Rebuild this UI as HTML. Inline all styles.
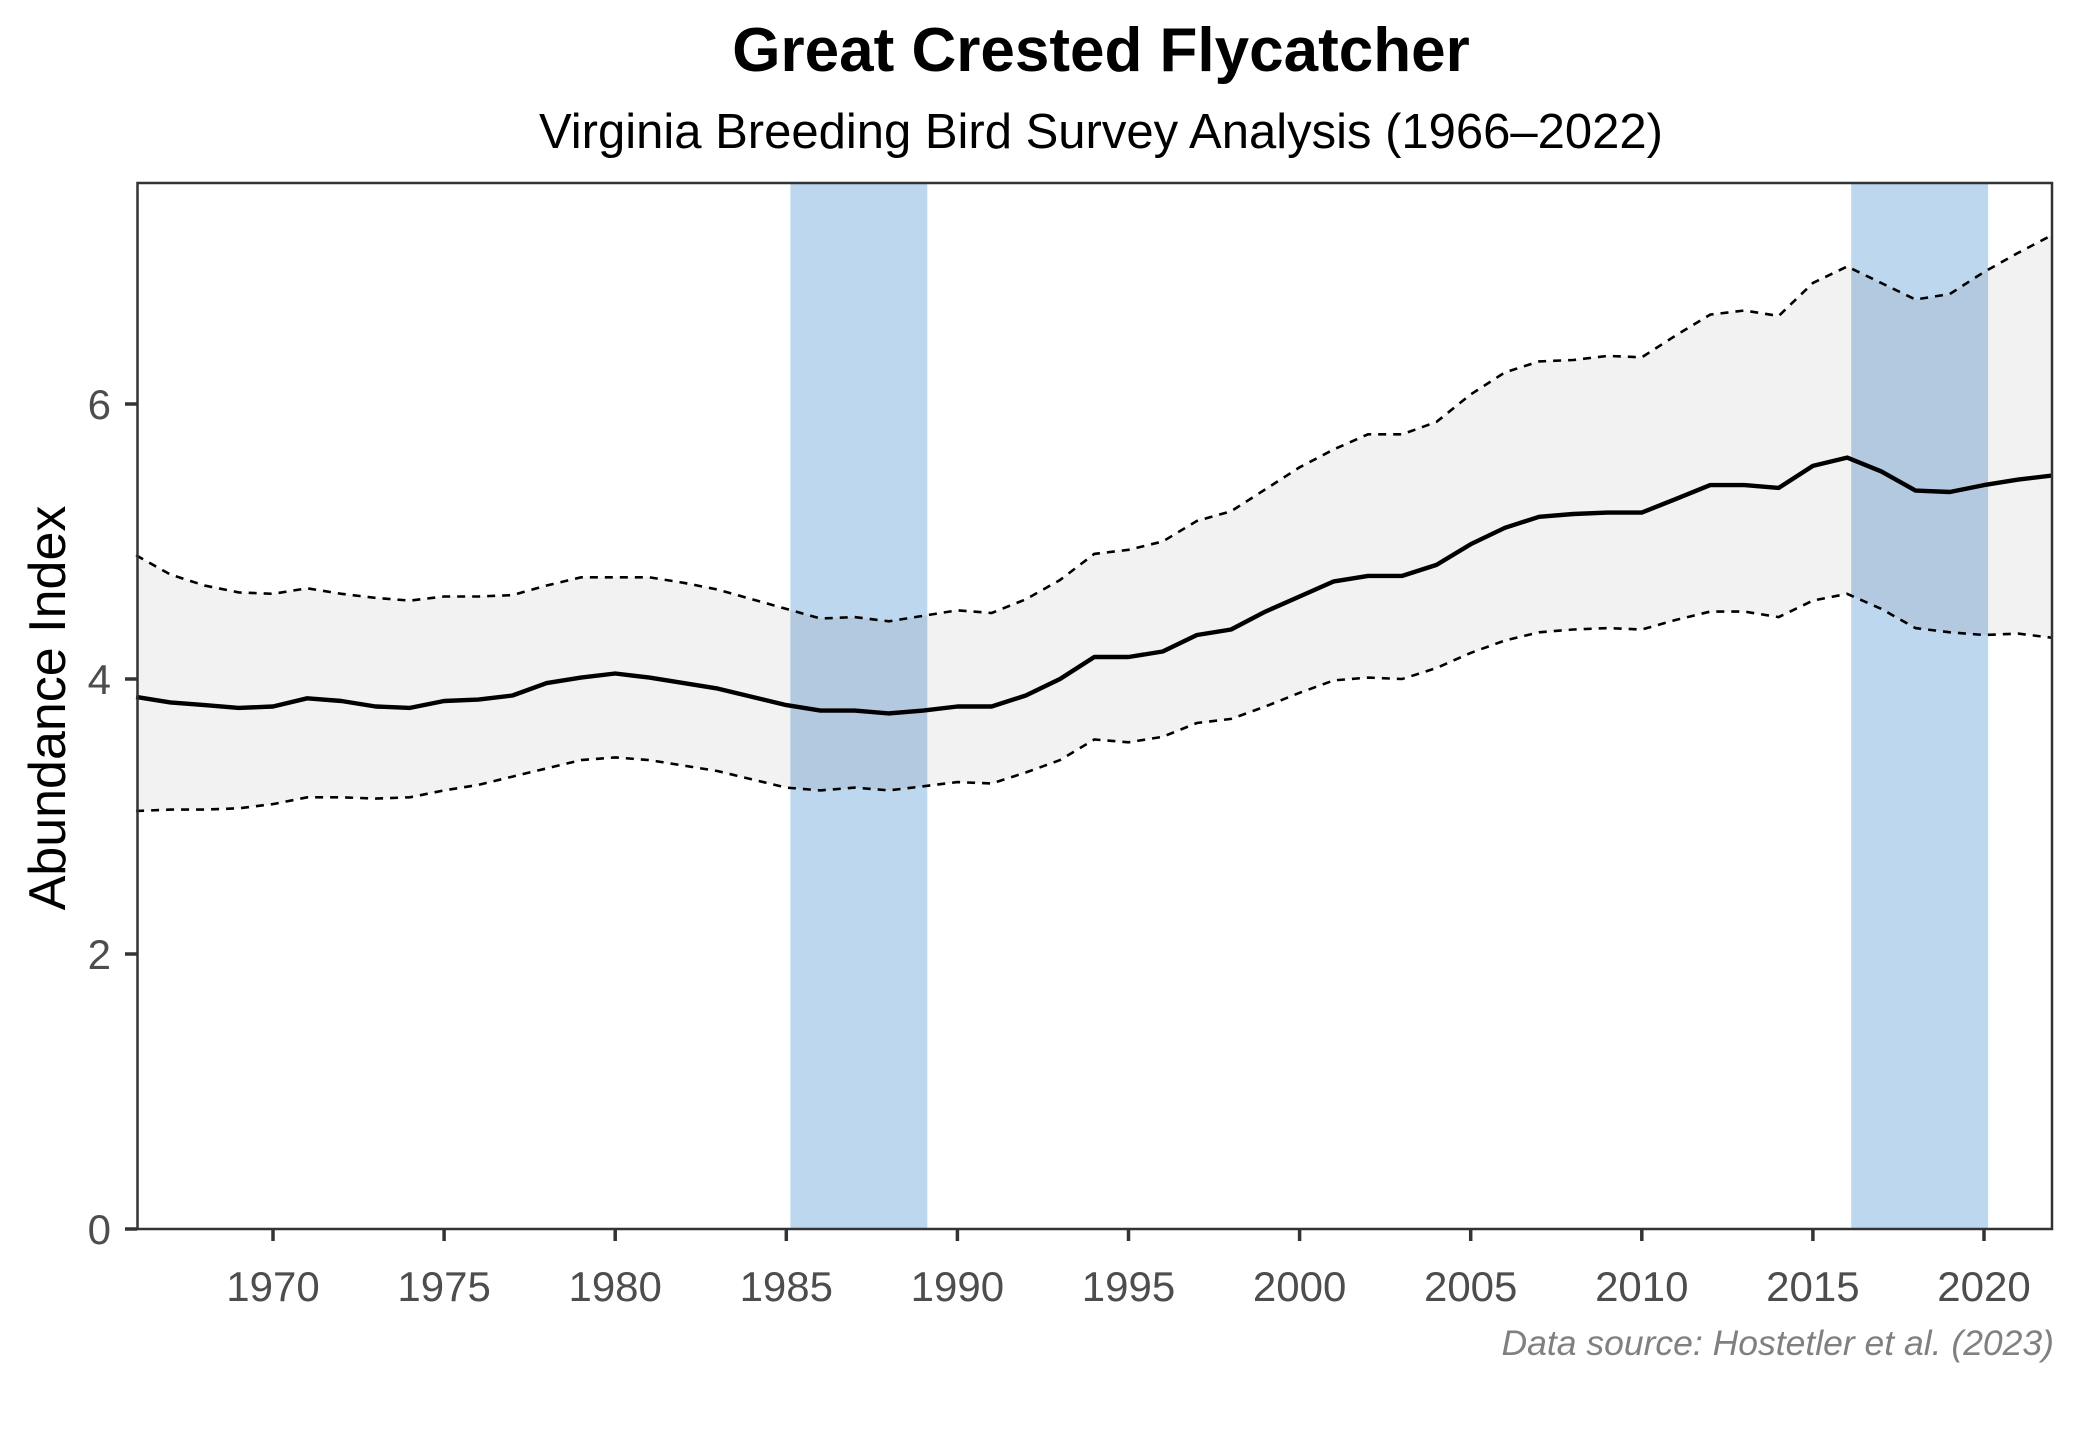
<!DOCTYPE html>
<html><head><meta charset="utf-8"><style>
html,body{margin:0;padding:0;background:#fff;}
svg{display:block;font-family:"Liberation Sans",Arial,sans-serif;}
</style></head><body>
<svg id="s" width="2080" height="1440" viewBox="0 0 2080 1440" xmlns="http://www.w3.org/2000/svg">
<rect width="2080" height="1440" fill="#fff"/>
<defs><clipPath id="bc"><rect x="790.4" y="183" width="136.9" height="1046"/><rect x="1851.2" y="183" width="136.9" height="1046"/></clipPath></defs>
<rect x="790.4" y="183" width="136.9" height="1046" fill="#bdd7ee"/>
<rect x="1851.2" y="183" width="136.9" height="1046" fill="#bdd7ee"/>
<path id="rib" fill="#f2f2f2"/>
<path id="rib2" fill="#b3c9df" clip-path="url(#bc)"/>
<path id="up" fill="none" stroke="#000" stroke-width="2.6" stroke-dasharray="8,7"/>
<path id="lo" fill="none" stroke="#000" stroke-width="2.6" stroke-dasharray="8,7"/>
<path id="mn" fill="none" stroke="#000" stroke-width="4.4" stroke-linejoin="round"/>
<rect x="137.5" y="183" width="1914.5" height="1046" fill="none" stroke="#333" stroke-width="2.5"/>
<g stroke="#333" stroke-width="3.5">
<line x1="125" y1="1229" x2="137" y2="1229"/><line x1="125" y1="954" x2="137" y2="954"/><line x1="125" y1="679" x2="137" y2="679"/><line x1="125" y1="404" x2="137" y2="404"/>
<line x1="273" y1="1229" x2="273" y2="1241"/><line x1="444.1" y1="1229" x2="444.1" y2="1241"/><line x1="615.2" y1="1229" x2="615.2" y2="1241"/><line x1="786.3" y1="1229" x2="786.3" y2="1241"/><line x1="957.4" y1="1229" x2="957.4" y2="1241"/><line x1="1128.5" y1="1229" x2="1128.5" y2="1241"/><line x1="1299.6" y1="1229" x2="1299.6" y2="1241"/><line x1="1470.7" y1="1229" x2="1470.7" y2="1241"/><line x1="1641.8" y1="1229" x2="1641.8" y2="1241"/><line x1="1812.9" y1="1229" x2="1812.9" y2="1241"/><line x1="1984" y1="1229" x2="1984" y2="1241"/>
</g>
<g fill="#4d4d4d" font-size="42" text-anchor="end">
<text x="111" y="1244">0</text><text x="111" y="969">2</text><text x="111" y="694">4</text><text x="111" y="419">6</text>
</g>
<g fill="#4d4d4d" font-size="42" text-anchor="middle">
<text x="273" y="1301">1970</text><text x="444.1" y="1301">1975</text><text x="615.2" y="1301">1980</text><text x="786.3" y="1301">1985</text><text x="957.4" y="1301">1990</text><text x="1128.5" y="1301">1995</text><text x="1299.6" y="1301">2000</text><text x="1470.7" y="1301">2005</text><text x="1641.8" y="1301">2010</text><text x="1812.9" y="1301">2015</text><text x="1984" y="1301">2020</text>
</g>
<text x="1101" y="71" font-size="62" font-weight="bold" text-anchor="middle">Great Crested Flycatcher</text>
<text x="1101" y="148" font-size="49" text-anchor="middle">Virginia Breeding Bird Survey Analysis (1966–2022)</text>
<text transform="translate(65,708) rotate(-90)" font-size="52" text-anchor="middle">Abundance Index</text>
<text x="2054" y="1355" font-size="35.5" font-style="italic" fill="#808080" text-anchor="end">Data source: Hostetler et al. (2023)</text>
</svg>
<script>
var m=[3.87,3.83,3.81,3.79,3.80,3.86,3.84,3.80,3.79,3.84,3.85,3.88,3.97,4.01,4.04,4.01,3.97,3.93,3.87,3.81,3.77,3.77,3.75,3.77,3.80,3.80,3.88,4.00,4.16,4.16,4.20,4.32,4.36,4.49,4.60,4.71,4.75,4.75,4.83,4.98,5.10,5.18,5.20,5.21,5.21,5.31,5.41,5.41,5.39,5.55,5.61,5.51,5.37,5.36,5.41,5.45,5.48];
var u=[4.90,4.76,4.68,4.63,4.62,4.66,4.62,4.59,4.57,4.60,4.60,4.61,4.68,4.74,4.74,4.74,4.70,4.65,4.58,4.51,4.44,4.45,4.42,4.46,4.50,4.48,4.58,4.72,4.91,4.94,5.00,5.15,5.22,5.38,5.54,5.67,5.78,5.78,5.87,6.07,6.23,6.31,6.32,6.35,6.34,6.50,6.65,6.68,6.64,6.88,7.00,6.88,6.76,6.80,6.96,7.10,7.23];
var l=[3.04,3.05,3.05,3.06,3.09,3.14,3.14,3.13,3.14,3.19,3.23,3.29,3.35,3.41,3.43,3.41,3.37,3.33,3.27,3.21,3.19,3.21,3.19,3.22,3.25,3.24,3.32,3.41,3.56,3.54,3.58,3.68,3.71,3.80,3.90,3.99,4.01,4.00,4.08,4.19,4.28,4.34,4.36,4.37,4.36,4.43,4.49,4.49,4.45,4.57,4.62,4.51,4.37,4.34,4.32,4.33,4.30];
function X(i){return (136.1+i*34.22).toFixed(1);}function Y(v){return (1229-v*137.5).toFixed(1);}
function p(a){return a.map(function(v,i){return (i?'L':'M')+X(i)+','+Y(v);}).join('');}
var r=p(u);for(var i=l.length-1;i>=0;i--)r+='L'+X(i)+','+Y(l[i]);r+='Z';
document.getElementById('rib').setAttribute('d',r);document.getElementById('rib2').setAttribute('d',r);
document.getElementById('up').setAttribute('d',p(u));document.getElementById('lo').setAttribute('d',p(l));document.getElementById('mn').setAttribute('d',p(m));
</script>
</body></html>
